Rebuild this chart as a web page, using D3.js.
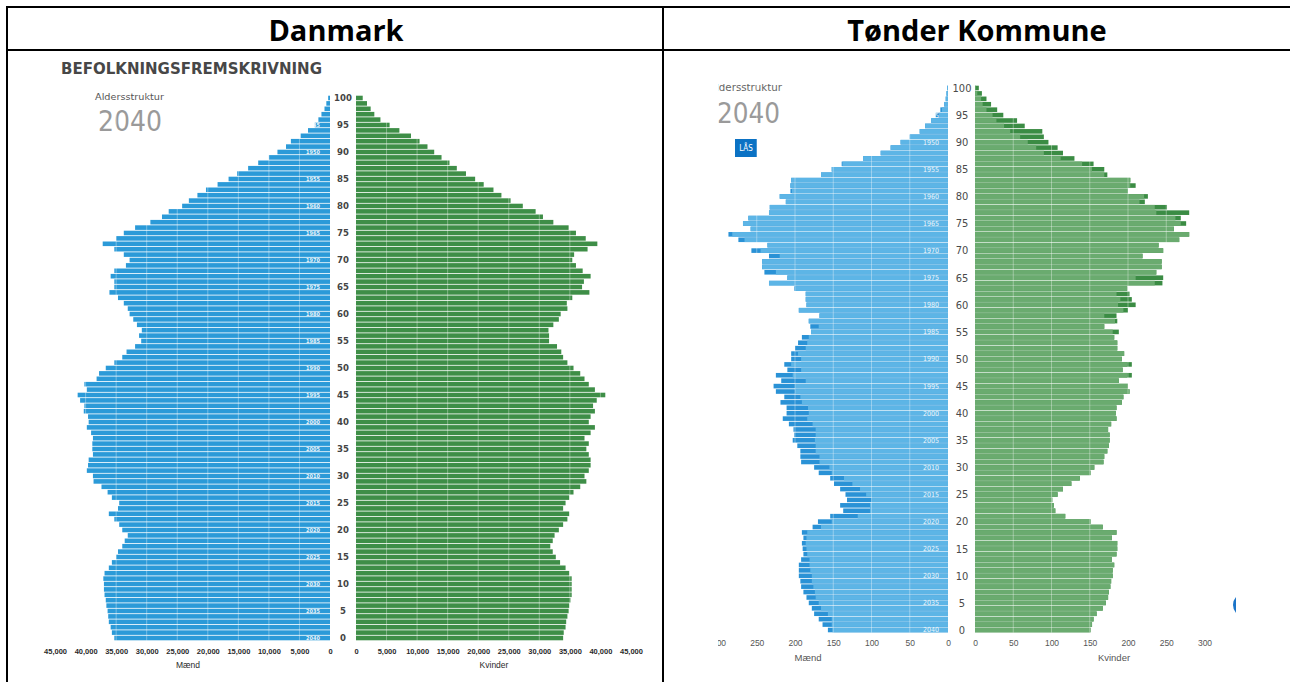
<!DOCTYPE html>
<html>
<head>
<meta charset="utf-8">
<script src="https://cdn.jsdelivr.net/npm/d3@7"></script>
<style>
  html, body { margin: 0; padding: 0; background: #fff; }
  svg { display: block; }
</style>
</head>
<body>
<div id="chart"></div>
<script>

// Data: index = age 0..100, projection year 2040

var ages = d3.range(0, 101);
var ageTicks = d3.range(0, 101, 5);

// Danmark (persons)
var dkMaend = [
  35300,35700,35900,36200,36300,36400,36600,36700,36900,37000,
  37000,37100,36900,36200,35700,35000,34700,34000,33600,33100,
  34000,34500,35300,36200,34700,34500,35700,36400,37400,38700,
  38800,39800,39600,39500,38800,38900,38900,38800,39100,39800,
  39500,39600,40300,40200,40900,41300,39800,40200,38200,37800,
  36700,35300,34000,33300,31900,30900,31250,30800,31600,32200,
  32800,33100,33750,34700,36100,35300,35300,35900,35300,33400,
  32800,33750,35300,37200,35000,33750,31900,29400,27500,26400,
  24200,23100,21700,20300,18400,16600,15200,13400,11750,10000,
  8600,7200,6400,4800,3600,2500,1900,1400,900,600,
  300];
var dkKvinder = [
  33900,34000,34300,34400,34600,34800,34900,35100,35300,35300,
  35300,35300,34900,34300,33400,32700,32200,31800,32200,32500,
  33200,33900,34600,34900,33900,34300,34900,35600,36700,37700,
  37400,38100,38400,38400,38100,37700,38100,37400,38400,39100,
  38100,38400,39100,38800,39400,40800,39100,38100,37400,36700,
  35600,34600,33900,33600,32900,31600,31600,31500,32300,33200,
  33500,34600,34500,35400,38200,37000,37300,38400,37100,36000,
  35400,35700,37900,39500,37600,36000,34800,32300,30600,29400,
  27300,25300,23800,22500,20900,19500,18000,16500,15300,14000,
  12800,11700,10400,9000,7100,5500,4000,3000,2400,1800,
  1100];
var dkTicks = [0,5000,10000,15000,20000,25000,30000,35000,40000,45000];

// Tønder Kommune (persons), current and locked (LÅS) comparison
var tkMaend = [
  151,152,152,157,166,169,173,174,176,178,
  178,180,181,181,184,185,186,185,184,166,
  152,118,102,102,100,107,115,125,136,152,
  155,168,168,173,173,174,173,173,177,184,
  182,183,191,193,200,200,186,203,192,205,
  192,196,186,184,182,179,169,182,168,195,
  185,186,186,200,234,210,225,243,243,220,
  245,236,266,282,258,268,261,234,233,212,
  220,204,206,205,166,152,138,111,88,75,
  62,50,37,30,22,12,8,5,3,2,
  1];
var tkMaendLaast = [
  157,164,169,175,178,182,185,189,192,193,
  195,195,195,192,189,190,191,189,191,177,
  170,154,137,141,132,134,141,149,154,169,
  175,192,193,193,197,203,201,202,208,216,
  211,211,219,214,225,228,218,225,210,214,
  205,205,200,196,191,179,180,182,168,195,
  185,186,186,201,234,210,240,243,243,234,
  257,236,274,287,258,268,261,234,233,212,
  220,206,206,205,166,152,139,111,88,75,
  62,50,37,30,22,16,10,5,3,2,
  1];
var tkKvinder = [
  151,153,155,159,167,171,174,175,177,178,
  180,180,182,179,185,186,186,179,185,167,
  151,118,105,103,101,108,115,126,137,151,
  156,168,169,173,175,176,176,174,178,185,
  184,185,192,194,202,200,188,199,193,199,
  192,195,186,186,182,180,169,183,169,194,
  187,190,185,199,235,210,237,244,244,219,
  246,240,267,280,260,269,262,237,235,215,
  221,200,203,203,169,153,140,112,90,80,
  69,59,46,38,28,23,15,10,8,3,
  1];
var tkKvinderLaast = [
  151,153,155,159,167,171,174,175,177,178,
  180,180,182,179,185,186,186,179,185,167,
  151,118,105,103,101,108,115,126,137,151,
  156,168,169,173,175,176,176,174,178,185,
  184,185,192,194,202,200,188,205,193,205,
  192,195,186,186,182,188,169,186,185,200,
  210,205,202,199,245,246,237,244,244,219,
  246,240,267,280,260,276,269,280,251,222,
  226,200,210,203,173,169,155,130,115,108,
  96,90,88,65,55,37,29,21,15,9,
  5];
var tkTicks = [0,50,100,150,200,250,300,350];

var headers = ["Danmark", "Tønder Kommune"];

//Set the Stage

var svgWidth = 1290;
var svgHeight = 682;

var svg = d3.select("#chart")
  .append("svg")
  .attr("width", svgWidth)
  .attr("height", svgHeight);

var condensed = "'DejaVu Sans Condensed', 'DejaVu Sans', sans-serif";

// table frame
var frame = svg.append("g").attr("stroke", "#000").attr("stroke-width", 2);
frame.append("line").attr("x1", 6).attr("x2", svgWidth).attr("y1", 7).attr("y2", 7);
frame.append("line").attr("x1", 6).attr("x2", svgWidth).attr("y1", 50).attr("y2", 50);
frame.append("line").attr("x1", 7).attr("x2", 7).attr("y1", 6).attr("y2", svgHeight);
frame.append("line").attr("x1", 663).attr("x2", 663).attr("y1", 6).attr("y2", svgHeight);

svg.selectAll(".header")
  .data(headers)
  .enter()
  .append("text")
  .attr("class", "header")
  .attr("x", (d, i) => i === 0 ? 336 : 977)
  .attr("y", 41)
  .attr("text-anchor", "middle")
  .attr("font-family", "'Open Sans', 'Noto Sans', sans-serif")
  .attr("font-weight", "bold")
  .attr("font-size", "29px")
  .attr("fill", "#000")
  .text(d => d);

// one pyramid
function drawPyramid(g, cfg) {
  var step = (cfg.yBottom - cfg.yTop) / 100;

  var yScale = d3.scaleBand()
    .domain(ages.slice().reverse())
    .range([cfg.yTop - step / 2, cfg.yBottom + step / 2])
    .paddingInner(0.15)
    .paddingOuter(0.075);

  var xMaend = d3.scaleLinear()
    .domain([0, cfg.max])
    .range([cfg.mZero, cfg.mZero - cfg.max * cfg.pxPerUnit]);

  var xKvinder = d3.scaleLinear()
    .domain([0, cfg.max])
    .range([cfg.kZero, cfg.kZero + cfg.max * cfg.pxPerUnit]);

  function maleBars(values, color, cls) {
    g.selectAll("." + cls)
      .data(ages)
      .enter()
      .append("rect")
      .attr("class", cls)
      .attr("x", a => xMaend(values[a]))
      .attr("y", a => yScale(a))
      .attr("width", a => cfg.mZero - xMaend(values[a]))
      .attr("height", yScale.bandwidth())
      .attr("fill", color);
  }

  function femaleBars(values, color, cls) {
    g.selectAll("." + cls)
      .data(ages)
      .enter()
      .append("rect")
      .attr("class", cls)
      .attr("x", cfg.kZero)
      .attr("y", a => yScale(a))
      .attr("width", a => xKvinder(values[a]) - cfg.kZero)
      .attr("height", yScale.bandwidth())
      .attr("fill", color);
  }

  // locked comparison first, current year on top
  if (cfg.maendLaast) maleBars(cfg.maendLaast, cfg.maleDark, "mLock");
  if (cfg.kvinderLaast) femaleBars(cfg.kvinderLaast, cfg.femaleDark, "kLock");
  maleBars(cfg.maend, cfg.maleColor, "mBar");
  femaleBars(cfg.kvinder, cfg.femaleColor, "kBar");

  // white grid lines over the bars
  var gridTop = cfg.yTop - step / 2;
  var gridBottom = cfg.yBottom + step / 2;
  g.selectAll(".mGrid")
    .data(cfg.ticks.slice(1))
    .enter()
    .append("line")
    .attr("class", "mGrid")
    .attr("x1", d => xMaend(d)).attr("x2", d => xMaend(d))
    .attr("y1", gridTop).attr("y2", gridBottom)
    .attr("stroke", "#fff").attr("stroke-opacity", 0.35).attr("stroke-width", 1);
  g.selectAll(".kGrid")
    .data(cfg.ticks.slice(1))
    .enter()
    .append("line")
    .attr("class", "kGrid")
    .attr("x1", d => xKvinder(d)).attr("x2", d => xKvinder(d))
    .attr("y1", gridTop).attr("y2", gridBottom)
    .attr("stroke", "#fff").attr("stroke-opacity", 0.35).attr("stroke-width", 1);

  // birth year inside the male bars
  g.selectAll(".birthYear")
    .data(ageTicks)
    .enter()
    .append("text")
    .attr("class", "birthYear")
    .attr("x", cfg.yearX)
    .attr("y", a => yScale(a) + yScale.bandwidth() / 2)
    .attr("dy", "0.35em")
    .attr("text-anchor", "middle")
    .attr("font-family", condensed)
    .attr("font-weight", cfg.yearWeight)
    .attr("font-size", cfg.yearSize)
    .attr("fill", "#fff")
    .attr("fill-opacity", 0.9)
    .text(a => 2040 - a);

  // age labels in the middle
  g.selectAll(".ageLabel")
    .data(ageTicks)
    .enter()
    .append("text")
    .attr("class", "ageLabel")
    .attr("x", cfg.ageX)
    .attr("y", a => yScale(a) + yScale.bandwidth() / 2)
    .attr("dy", "0.35em")
    .attr("text-anchor", "middle")
    .attr("font-family", condensed)
    .attr("font-weight", cfg.ageWeight)
    .attr("font-size", cfg.ageSize)
    .attr("fill", cfg.ageColor)
    .text(a => a);

  // axes
  var leftAxis = d3.axisBottom(xMaend).tickValues(cfg.ticks).tickSize(0).tickFormat(cfg.fmt);
  var rightAxis = d3.axisBottom(xKvinder).tickValues(cfg.ticks).tickSize(0).tickFormat(cfg.fmt);

  [leftAxis, rightAxis].forEach(function(ax) {
    var axG = g.append("g")
      .attr("transform", `translate(0, ${cfg.tickY})`)
      .call(ax);
    axG.select(".domain").remove();
    axG.selectAll("text")
      .attr("y", 0)
      .attr("dy", "0.35em")
      .attr("font-family", cfg.tickFont)
      .attr("font-weight", cfg.tickWeight)
      .attr("font-size", cfg.tickSize)
      .attr("fill", cfg.tickColor);
  });

  g.append("text")
    .attr("x", cfg.maendX).attr("y", cfg.labelY)
    .attr("dy", "0.35em")
    .attr("text-anchor", "middle")
    .attr("font-family", cfg.tickFont)
    .attr("font-size", cfg.labelSize)
    .attr("fill", cfg.tickColor)
    .text("Mænd");

  g.append("text")
    .attr("x", cfg.kvinderX).attr("y", cfg.labelY)
    .attr("dy", "0.35em")
    .attr("text-anchor", "middle")
    .attr("font-family", cfg.tickFont)
    .attr("font-size", cfg.labelSize)
    .attr("fill", cfg.tickColor)
    .text("Kvinder");
}

// Danmark
var dkGroup = svg.append("g");

dkGroup.append("text")
  .attr("x", 61).attr("y", 74)
  .attr("font-family", condensed)
  .attr("font-weight", "bold")
  .attr("font-size", "15px")
  .attr("fill", "#474747")
  .attr("textLength", 261)
  .attr("lengthAdjust", "spacingAndGlyphs")
  .text("BEFOLKNINGSFREMSKRIVNING");

dkGroup.append("text")
  .attr("x", 95).attr("y", 100)
  .attr("font-family", condensed)
  .attr("font-size", "9.5px")
  .attr("fill", "#555")
  .attr("textLength", 69)
  .attr("lengthAdjust", "spacingAndGlyphs")
  .text("Aldersstruktur");

dkGroup.append("text")
  .attr("x", 98).attr("y", 131)
  .attr("font-family", condensed)
  .attr("font-size", "29px")
  .attr("fill", "#9a9a9a")
  .attr("textLength", 64)
  .attr("lengthAdjust", "spacingAndGlyphs")
  .text("2040");

drawPyramid(dkGroup, {
  maend: dkMaend, kvinder: dkKvinder,
  yTop: 98, yBottom: 638,
  max: 45000, pxPerUnit: 0.00611,
  mZero: 330, kZero: 356,
  ticks: dkTicks, fmt: d3.format(","),
  maleColor: "#2b9ad8", femaleColor: "#3e8e47",
  ageX: 343, ageSize: "9.5px", ageWeight: "bold", ageColor: "#444",
  yearX: 313, yearSize: "5.5px", yearWeight: "bold",
  tickY: 651, tickFont: "'Liberation Sans', Arial, sans-serif", tickWeight: "bold",
  tickSize: "7.5px", tickColor: "#2a2a2a",
  labelY: 665, labelSize: "8.5px", maendX: 188, kvinderX: 494
});

// Tønder Kommune, cropped screenshot area
svg.append("clipPath")
  .attr("id", "tkClip")
  .append("rect")
  .attr("x", 718).attr("y", 84)
  .attr("width", 518).attr("height", 598);

var tkGroup = svg.append("g").attr("clip-path", "url(#tkClip)");

tkGroup.append("text")
  .attr("x", 709).attr("y", 91)
  .attr("font-family", condensed)
  .attr("font-size", "10px")
  .attr("fill", "#666")
  .attr("textLength", 73)
  .attr("lengthAdjust", "spacingAndGlyphs")
  .text("Aldersstruktur");

tkGroup.append("text")
  .attr("x", 717).attr("y", 123)
  .attr("font-family", condensed)
  .attr("font-size", "28px")
  .attr("fill", "#9a9a9a")
  .attr("textLength", 63)
  .attr("lengthAdjust", "spacingAndGlyphs")
  .text("2040");

tkGroup.append("rect")
  .attr("x", 735).attr("y", 139)
  .attr("width", 22).attr("height", 18)
  .attr("fill", "#0b72c4");

tkGroup.append("text")
  .attr("x", 746).attr("y", 148)
  .attr("dy", "0.35em")
  .attr("text-anchor", "middle")
  .attr("font-family", condensed)
  .attr("font-size", "8px")
  .attr("fill", "#fff")
  .text("LÅS");

drawPyramid(tkGroup, {
  maend: tkMaend, kvinder: tkKvinder,
  maendLaast: tkMaendLaast, kvinderLaast: tkKvinderLaast,
  yTop: 88, yBottom: 630,
  max: 350, pxPerUnit: 0.765,
  mZero: 948, kZero: 975,
  ticks: tkTicks, fmt: d3.format("d"),
  maleColor: "#5db5e6", maleDark: "#2a92d6",
  femaleColor: "#6aab6f", femaleDark: "#3b8c44",
  ageX: 962, ageSize: "11px", ageWeight: "normal", ageColor: "#4a4a4a",
  yearX: 931, yearSize: "7px", yearWeight: "normal",
  tickY: 643, tickFont: "'Liberation Sans', Arial, sans-serif", tickWeight: "normal",
  tickSize: "8.5px", tickColor: "#555",
  labelY: 658, labelSize: "9.5px", maendX: 808, kvinderX: 1114
});

// chat bubble peeking in at the right edge
tkGroup.append("circle")
  .attr("cx", 1245).attr("cy", 605).attr("r", 12)
  .attr("fill", "#1b74c8");

</script>
</body>
</html>
